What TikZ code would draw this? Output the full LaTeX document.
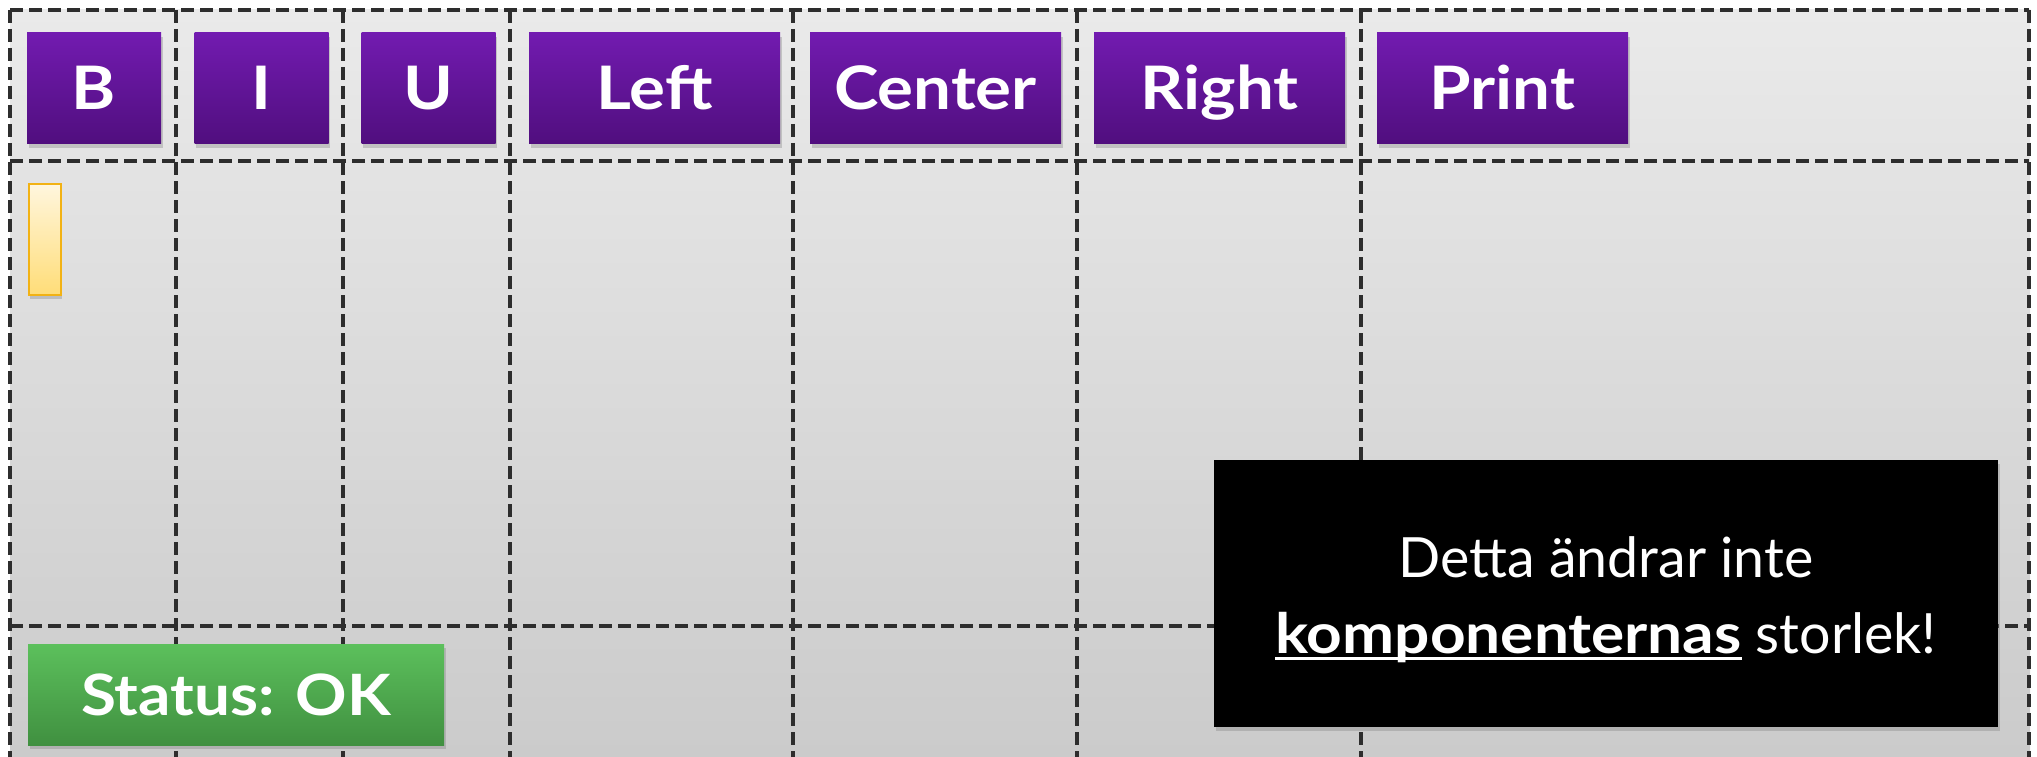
\documentclass[tikz,border=0pt]{standalone}
\usepackage{fontspec}
\setmainfont{Lato}[BoldFeatures={FakeStretch=1.12}]
\usetikzlibrary{shadows}
\definecolor{purpTop}{RGB}{114,27,176}
\definecolor{purpBot}{RGB}{80,14,126}
\definecolor{grnTop}{RGB}{92,192,92}
\definecolor{grnBot}{RGB}{64,144,64}
\definecolor{ylwTop}{RGB}{255,246,222}
\definecolor{ylwBot}{RGB}{255,221,120}
\definecolor{ylwEdge}{RGB}{242,178,20}
\definecolor{bgTop}{RGB}{234,234,234}
\definecolor{bgBot}{RGB}{203,203,203}
\definecolor{gridcol}{RGB}{45,45,45}
\newcommand{\myul}[1]{\setbox0\hbox{#1}\rlap{\rule[-0.12em]{\wd0}{0.06em}}#1}
\tikzset{
  gridline/.style={draw=gridcol, line width=3.8pt, dash pattern=on 13pt off 6pt},
  softshadow/.style={drop shadow={opacity=0.35, shadow xshift=1.5pt, shadow yshift=-4pt}},
  btn/.style={rectangle, inner sep=0pt, minimum height=111pt, top color=purpTop, bottom color=purpBot,
    text=white, font=\fontsize{60}{62}\selectfont\bfseries, text height=43pt, text depth=0pt, softshadow},
  narrowbtn/.style={btn, minimum width=134pt},
  widebtn/.style={btn, minimum width=251pt},
  statusbtn/.style={rectangle, inner sep=0pt, minimum width=416pt, minimum height=101pt,
    top color=grnTop, bottom color=grnBot, text=white, font=\fontsize{57}{60}\selectfont\bfseries,
    text height=41pt, text depth=0pt, softshadow},
  caret/.style={rectangle, inner sep=0pt, minimum width=32pt, minimum height=111pt,
    top color=ylwTop, bottom color=ylwBot, draw=ylwEdge, line width=2pt, softshadow},
  notebox/.style={rectangle, inner sep=0pt, minimum width=784pt, minimum height=267pt, fill=black, softshadow},
  notetext/.style={inner sep=0pt, text=white, align=center, font=\fontsize{55.5}{76}\selectfont},
}
\begin{document}
\begin{tikzpicture}[x=1pt,y=-1pt]
\useasboundingbox (0,0) rectangle (2037,757);
\fill[white] (0,0) rectangle (2037,757);
\shade[top color=bgTop, bottom color=bgBot] (10,10) rectangle (2030,757);
% grid
\foreach \gx in {10,176,343,510,793,1077,1361,2029}
  \draw[gridline] (\gx,10) -- (\gx,757);
\foreach \gy in {10,161,626}
  \draw[gridline] (10,\gy) -- (2029,\gy);
% buttons
\node[narrowbtn] (b) at (94,88.5) {B};
\node[narrowbtn] (i) at (261.5,88.5) {I};
\node[narrowbtn] (u) at (428.5,88.5) {U};
\node[widebtn] (left) at (654.5,88.5) {Left};
\node[widebtn] (center) at (935.5,88.5) {Center};
\node[widebtn] (right) at (1219.5,88.5) {Right};
\node[widebtn] (print) at (1502.5,88.5) {Print};
% caret
\node[caret] (cursor) at (44.5,239) {};
% status
\node[statusbtn] (status) at (236,694.5) {Status: OK};
% note
\node[notebox] (note) at (1606,593.5) {};
\node[notetext] (notetxt) at ([yshift=-6pt]note.center) {Detta ändrar inte\\\myul{\textbf{komponenternas}} storlek!};
\end{tikzpicture}
\end{document}
